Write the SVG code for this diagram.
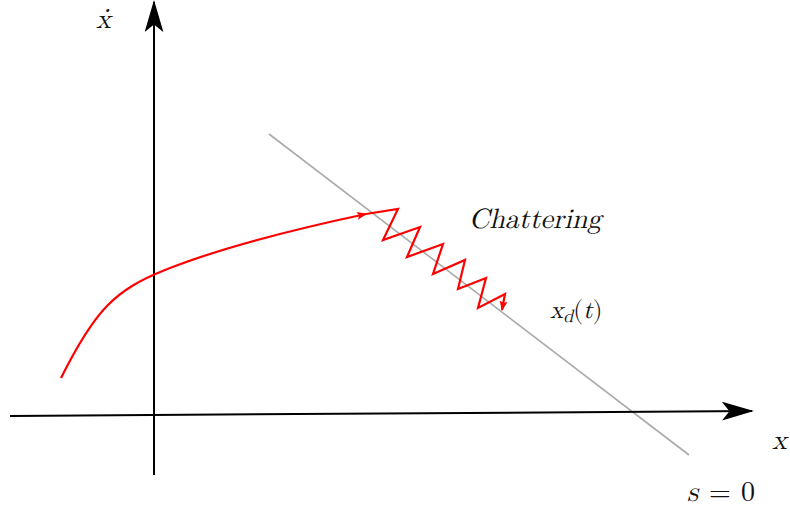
<svg xmlns="http://www.w3.org/2000/svg" width="790" height="508" viewBox="0 0 790 508">
<style>
.ax{stroke:#000;stroke-width:2;fill:none}
.red{stroke:#f00;stroke-width:2.2;fill:none;stroke-linejoin:miter}
.t{font-family:"Latin Modern Math","DejaVu Serif","Liberation Serif",serif;font-style:italic;fill:#111}
.r{font-family:"Latin Modern Math","DejaVu Serif","Liberation Serif",serif;font-style:normal;fill:#111}
</style>
<defs>
<marker id="ah" viewBox="0 0 34 20" refX="32" refY="10" markerWidth="32" markerHeight="19" markerUnits="userSpaceOnUse" orient="auto">
<path d="M0,0 L34,10 L0,20 L8,10 Z" fill="#000"/>
</marker>
<marker id="rh" viewBox="0 0 10 8" refX="9" refY="4" markerWidth="10" markerHeight="8" markerUnits="userSpaceOnUse" orient="auto">
<path d="M0,0 L10,4 L0,8 L2,4 Z" fill="#f00"/>
</marker>
</defs>
<rect width="790" height="508" fill="#fff"/>
<g id="sline"><line x1="269" y1="134" x2="689" y2="455" stroke="#aaa" stroke-width="1.6"/></g>
<g id="connectors">
<line class="ax" x1="154" y1="475" x2="154" y2="2" marker-end="url(#ah)"/>
<line class="ax" x1="10" y1="416" x2="752" y2="411" marker-end="url(#ah)"/>
<path class="red" d="M61,378 C95,310 115,290 165,270 C220,248 300,228 366,214" marker-end="url(#rh)"/>
<path class="red" d="M366,214 L398,209 L383,240 L420,227 L407,257 L443,244 L433,274 L465,260 L458,289 L486,278 L478,308 L505,294 L502,310" marker-end="url(#rh)"/>
</g>
<g id="labels">
<text class="t" x="96" y="28" font-size="28">ẋ</text>
<text class="t" x="772" y="449" font-size="28">x</text>
<text class="t" x="687" y="501" font-size="28">s</text>
<text class="r" x="709" y="501" font-size="28">=</text>
<text class="r" x="741" y="501" font-size="28">0</text>
<text class="t" x="469" y="228" font-size="28">Chattering</text>
<text class="t" x="550" y="318" font-size="25">x<tspan font-size="18" dy="4">d</tspan><tspan class="r" dy="-4">(</tspan>t<tspan class="r">)</tspan></text>
</g>
</svg>
